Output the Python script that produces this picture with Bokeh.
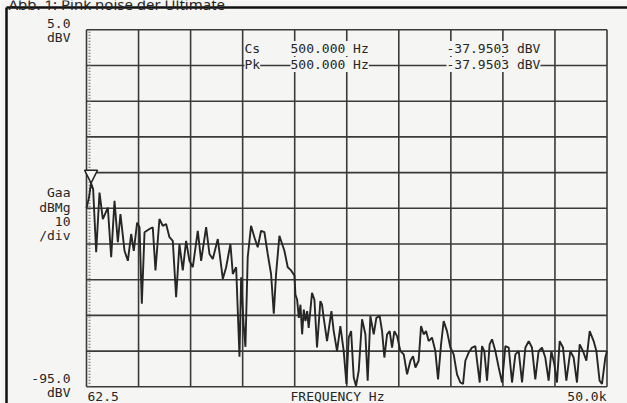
from bokeh.plotting import figure
from bokeh.models import Label, Arrow, NormalHead
from bokeh.embed import file_html
from bokeh.resources import INLINE

F_START, F_STOP = 62.5, 50000.0          # Hz, linear span
DB_TOP, DB_BOTTOM = 5.0, -95.0           # dBV
N_DIV = 10

freq_hz = [
    62.5, 300, 500, 700, 990, 1310, 1630, 2110, 2430, 2750, 3070, 3320, 3710,
    4030, 4350, 4600, 4920, 5150, 5370, 5630, 6100, 6420, 6680, 7060, 7380,
    7700, 8020, 8340, 8660, 8980, 9300, 9620, 9940, 10260, 10740, 11060,
    11540, 11860, 12180, 12660, 13140, 13460, 13870, 14100, 14420, 14740,
    14900, 15150, 15310, 15530, 15850, 16170, 16490, 16810, 17130, 17450,
    17770, 18030, 18250, 18570, 19050, 19370, 19690, 20010,
    20110, 20270, 20430, 20590, 20750, 20910, 21070, 21230, 21380, 21700,
    21930, 22180, 22500, 22660, 22820, 23140, 23560, 23780, 24100, 24420,
    24740, 25000, 25220, 25450, 25700, 25920, 26180, 26500, 26820, 27040,
    27300, 27620, 27870, 28190, 28420, 28640, 28900, 29150, 29380, 29600,
    29860, 30180, 30500, 30820, 31140, 31390, 31620, 31930, 32160, 32410,
    32640, 32890, 33210, 33530, 33790, 34080, 34330, 34650, 34970, 35290,
    35610, 35930, 36190, 36410, 36730, 37050, 37370, 37530, 37790, 38010,
    38230, 38490, 38740, 38970, 39290, 39610, 39930, 40250, 40570, 40890,
    41210, 41530, 41850, 42170, 42490, 42800, 43120, 43440, 43760, 44080,
    44400, 44660, 44950, 45200, 45460, 45780, 46100, 46480, 46800, 47120,
    47380, 47700, 48020, 48340, 48720, 48980, 49290, 49520, 49840, 50000,
]
level_dbv = [
    -45.0, -42.0, -37.95, -39.7, -57.3, -40.6, -48.0, -44.8, -58.7, -42.9,
    -54.5, -46.6, -56.9, -59.7, -52.2, -56.9, -49.0, -50.3, -71.7, -51.7,
    -50.8, -50.3, -62.4, -48.0, -49.9, -49.4, -53.1, -54.1, -69.9, -55.0,
    -62.4, -54.1, -59.7, -61.5, -51.3, -59.7, -50.3, -57.8, -59.2, -53.6,
    -64.8, -61.5, -55.0, -63.4, -61.5, -86.6, -64.3, -78.3, -83.8, -58.7,
    -49.9, -53.1, -55.9, -51.3, -51.7, -57.8, -63.4, -74.5, -63.4, -52.7,
    -56.9, -61.5, -62.4, -63.8,
    -69.2, -70.6, -75.7, -72.0, -80.3, -73.4, -76.6, -73.8, -78.5, -68.7,
    -70.6, -84.0, -71.0, -72.0, -75.7, -82.2, -73.8, -79.4, -85.0, -78.0,
    -85.0, -94.2, -81.2, -79.4, -92.4, -94.8, -90.5, -76.1, -80.3, -93.3,
    -75.2, -80.3, -75.7, -75.2, -79.4, -86.8, -80.3, -79.4, -84.0, -79.4,
    -80.8, -85.0, -85.9, -91.5, -87.7, -86.4, -89.6, -87.7, -78.0, -80.3,
    -79.4, -82.2, -81.2, -85.0, -92.9, -83.1, -76.6, -79.4, -84.0, -85.9,
    -91.5, -93.8, -94.2, -87.7, -85.4, -84.0, -83.6, -87.7, -93.8, -83.6,
    -85.0, -93.3, -83.1, -81.7, -85.0, -89.6, -93.8, -83.6, -84.0, -93.8,
    -85.9, -85.0, -93.8, -84.0, -82.2, -84.0, -92.9, -85.0, -84.0, -86.8,
    -93.3, -85.0, -88.7, -93.8, -82.2, -84.0, -93.3, -85.0, -86.8, -93.8,
    -83.1, -85.0, -87.7, -79.4, -82.2, -85.0, -93.3, -94.2, -86.8, -85.0,
]

marker_freq = 500.0
marker_level = -37.9503
marker_rows = ["Cs", "Pk"]
marker_freq_text = "500.000 Hz"
marker_level_text = "-37.9503 dBV"

scale_top = ["5.0", "dBV"]
scale_mid = ["Gaa", "dBMg", "10", "/div"]
scale_bottom = ["-95.0", "dBV"]
x_labels = ["62.5", "FREQUENCY Hz", "50.0k"]
title = "Abb. 1: Pink noise der Ultimate"

x_ticks = [F_START + i * (F_STOP - F_START) / N_DIV for i in range(N_DIV + 1)]
y_ticks = [DB_TOP - i * (DB_TOP - DB_BOTTOM) / N_DIV for i in range(N_DIV + 1)]

# ---------------- layout (pixels of the page) ----------------
W, H = 627, 403
PX_L, PX_R, PX_T, PX_B = 86.0, 606.5, 29.3, 386.3
HZ_PX = (F_STOP - F_START) / (PX_R - PX_L)
DB_PX = (DB_TOP - DB_BOTTOM) / (PX_B - PX_T)


def X(px):
    return F_START + (px - PX_L) * HZ_PX


def Y(py):
    return DB_TOP - (py - PX_T) * DB_PX


BG = "#f5f5f3"
INK = "#262626"
GRID = "#3a3a3a"
FONT = "DejaVu Sans Mono"
FS = "13px"

p = figure(width=W, height=H,
           x_range=(X(0), X(W)), y_range=(Y(H), Y(0)),
           x_axis_type=None, y_axis_type=None,
           output_backend="svg", toolbar_location=None,
           min_border=0, min_border_left=0, min_border_right=0,
           min_border_top=0, min_border_bottom=0,
           background_fill_color=BG, border_fill_color=BG,
           outline_line_color=None)

# graticule (10 x 10 divisions)
p.segment(x0=x_ticks, y0=[DB_BOTTOM] * len(x_ticks), x1=x_ticks, y1=[DB_TOP] * len(x_ticks),
          line_color=GRID, line_width=1.6)
p.segment(x0=[F_START] * len(y_ticks), y0=y_ticks, x1=[F_STOP] * len(y_ticks), y1=y_ticks,
          line_color=GRID, line_width=1.6)

# dotted start line just inside the left edge
p.segment(x0=[X(89)], y0=[DB_BOTTOM], x1=[X(89)], y1=[DB_TOP],
          line_color="#707070", line_width=2, line_dash="1 2")

# spectrum trace
p.line(freq_hz, level_dbv, line_color=INK, line_width=1.9)

# marker triangle, tip on the marker point
p.add_layout(Arrow(end=NormalHead(size=13, fill_color=BG, line_color=INK, line_width=1.5),
                   x_start=marker_freq, y_start=marker_level + 6,
                   x_end=marker_freq, y_end=marker_level, line_alpha=0))


def lab(px, py, text, align="left", bg=None, font=FONT, size=FS, baseline="middle"):
    p.add_layout(Label(x=X(px), y=Y(py), text=text, text_font=font, text_font_size=size,
                       text_color=INK, text_align=align, text_baseline=baseline,
                       background_fill_color=bg))


# marker readout (boxes hide the graticule)
for row, py in zip(marker_rows, [48, 64]):
    lab(244, py, row, bg=BG)
    lab(290, py, marker_freq_text, bg=BG)
    lab(446, py, marker_level_text, bg=BG)

# left scale annotations
for t, py in zip(scale_top, [23, 37]):
    lab(70, py, t, "right")
for t, py in zip(scale_mid, [192, 207, 221, 235]):
    lab(70, py, t, "right")
for t, py in zip(scale_bottom, [378, 392]):
    lab(70, py, t, "right")

# bottom annotations
lab(87, 395.5, x_labels[0], "left")
lab(337, 395.5, x_labels[1], "center")
lab(606, 395.5, x_labels[2], "right")

# outer frame of the printed figure and its (cut) caption
p.line(x=[X(6), X(6)], y=[Y(H), Y(7)], line_color="#111111", line_width=2.5)
p.line(x=[X(6), X(W)], y=[Y(7), Y(7)], line_color="#111111", line_width=2.5)
lab(8, 3.5, title, "left", font="Noto Sans", size="15px", baseline="alphabetic")

open("out.html", "w").write(file_html(p, INLINE))
